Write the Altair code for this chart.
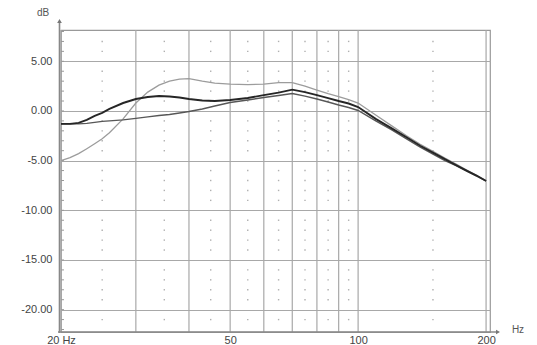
import altair as alt
import pandas as pd

# ---- data ----
freq = [20, 21, 22, 23, 24, 25, 26, 28, 30, 32, 34, 36, 38, 40, 43, 46, 50, 55, 60, 65,
        70, 75, 80, 85, 90, 95, 100, 110, 120, 130, 140, 150, 160, 170, 180, 190, 200]
light = [-5.0, -4.7, -4.3, -3.8, -3.3, -2.8, -2.2, -0.8, 0.8, 1.9, 2.6, 3.0, 3.2, 3.25, 3.0, 2.8,
         2.7, 2.65, 2.7, 2.85, 2.85, 2.5, 2.1, 1.75, 1.45, 1.15, 0.8, -0.4, -1.5, -2.5, -3.35,
         -4.05, -4.75, -5.35, -5.95, -6.5, -7.0]
dark = [-1.3, -1.3, -1.2, -0.9, -0.5, -0.2, 0.2, 0.8, 1.2, 1.4, 1.5, 1.45, 1.35, 1.2, 1.05, 1.0,
        1.1, 1.3, 1.6, 1.85, 2.15, 1.9, 1.6, 1.3, 1.0, 0.75, 0.4, -0.8, -1.75, -2.65, -3.5,
        -4.2, -4.85, -5.45, -6.0, -6.5, -7.05]
medium = [-1.3, -1.3, -1.3, -1.25, -1.15, -1.05, -1.0, -0.9, -0.75, -0.6, -0.45, -0.35, -0.2,
          -0.05, 0.2, 0.5, 0.85, 1.1, 1.35, 1.55, 1.75, 1.5, 1.2, 0.9, 0.6, 0.35, 0.05, -1.0,
          -1.9, -2.8, -3.65, -4.35, -5.0, -5.5, -6.05, -6.55, -7.05]

y_ticks = [-20, -15, -10, -5, 0, 5]
x_labels = [20, 50, 100, 200]
x_grid = [20, 30, 40, 50, 60, 70, 80, 90, 100, 200]
dot_x = [25, 35, 45, 55, 65, 75, 85, 95, 150]
dot_y = [v for v in range(-21, 8) if v % 5 != 0]
minor_y = list(range(-22, 9))

W, H = 429, 302
FONT = "Liberation Sans"

xs = alt.Scale(type="log", domain=[20, 204.3], nice=False)
ys = alt.Scale(domain=[-22.25, 8.15], nice=False, zero=False)

curves = pd.DataFrame({"f": freq, "light": light, "dark": dark, "medium": medium})
grid_df = pd.DataFrame({"f": x_grid})
dots_df = pd.DataFrame([{"f": fx, "v": vy} for fx in dot_x for vy in dot_y])
minor_df = pd.DataFrame({"v": minor_y})
one = pd.DataFrame({"a": [0]})

base_axis_x = alt.Axis(values=x_labels, grid=False, ticks=False, domain=False, title=None,
                       labelExpr="datum.value == 20 ? '20 Hz' : datum.label",
                       labelFontSize=11, labelColor="#444", labelFont=FONT, labelPadding=2,
                       labelFlush=False)
base_axis_y = alt.Axis(values=y_ticks, grid=True, gridColor="#a8a8a8", gridWidth=1,
                       ticks=False, domain=False, title=None,
                       labelExpr="replace(format(datum.value, '.2f'), '\u2212', '-')",
                       labelFontSize=11, labelColor="#444", labelFont=FONT, labelPadding=9)

axes_layer = alt.Chart(curves).mark_point(opacity=0).encode(
    x=alt.X("f:Q", scale=xs, axis=base_axis_x),
    y=alt.Y("light:Q", scale=ys, axis=base_axis_y),
)

vgrid = alt.Chart(grid_df).mark_rule(color="#a8a8a8", strokeWidth=1.2).encode(
    x=alt.X("f:Q", scale=xs)
)

dots = alt.Chart(dots_df).mark_square(size=2, color="#b0b0b0", opacity=1).encode(
    x=alt.X("f:Q", scale=xs), y=alt.Y("v:Q", scale=ys)
)

minor = alt.Chart(minor_df).mark_rule(color="#999", strokeWidth=1).encode(
    x=alt.value(0), x2=alt.value(3), y=alt.Y("v:Q", scale=ys)
)

line_light = alt.Chart(curves).mark_line(color="#9c9c9c", strokeWidth=1.3).encode(
    x=alt.X("f:Q", scale=xs), y=alt.Y("light:Q", scale=ys), order="f:Q"
)
line_medium = alt.Chart(curves).mark_line(color="#575757", strokeWidth=1.4).encode(
    x=alt.X("f:Q", scale=xs), y=alt.Y("medium:Q", scale=ys), order="f:Q"
)
line_dark = alt.Chart(curves).mark_line(color="#262626", strokeWidth=1.9).encode(
    x=alt.X("f:Q", scale=xs), y=alt.Y("dark:Q", scale=ys), order="f:Q"
)

y_axis_line = alt.Chart(one).mark_rule(color="#888", strokeWidth=1.6).encode(
    x=alt.value(-1.5), y=alt.value(-8), y2=alt.value(H + 1)
)
x_axis_line = alt.Chart(one).mark_rule(color="#888", strokeWidth=1.6).encode(
    x=alt.value(-3), x2=alt.value(W + 7), y=alt.value(H)
)
arrow_up = alt.Chart(one).mark_point(shape="triangle-up", filled=True, color="#777", size=22,
                                     opacity=1).encode(x=alt.value(-1.5), y=alt.value(-9))
arrow_right = alt.Chart(one).mark_point(shape="triangle-right", filled=True, color="#777",
                                        size=22, opacity=1).encode(x=alt.value(W + 8), y=alt.value(H))
db_text = alt.Chart(one).mark_text(font=FONT, fontSize=10, color="#555").encode(
    x=alt.value(-18), y=alt.value(-17), text=alt.value("dB")
)
hz_text = alt.Chart(one).mark_text(font=FONT, fontSize=10, color="#555").encode(
    x=alt.value(W + 28), y=alt.value(H - 2), text=alt.value("Hz")
)

chart = alt.layer(
    axes_layer, vgrid, dots, minor, y_axis_line, x_axis_line, arrow_up, arrow_right,
    line_light, line_medium, line_dark, db_text, hz_text
).properties(
    width=W, height=H,
    autosize=alt.AutoSizeParams(type="none"),
    padding={"left": 53, "top": 22, "right": 39, "bottom": 15},
    background="white",
).configure_view(stroke="#999", strokeWidth=1.2)

chart.save("out.html", embed_options={"renderer": "svg", "actions": False})
